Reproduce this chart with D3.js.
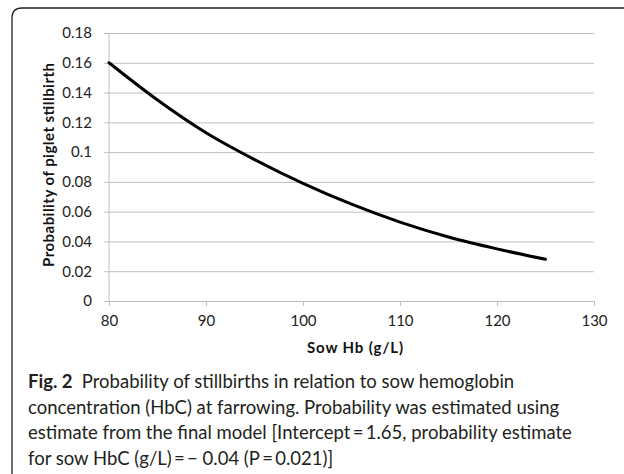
<!DOCTYPE html>
<html>
<head>
<meta charset="utf-8">
<script src="https://cdn.jsdelivr.net/npm/d3@7"></script>
<style>
  html, body { margin: 0; padding: 0; background: #fff; }
  svg { display: block; }
</style>
</head>
<body>
<svg id="chart" width="624" height="474"></svg>
<script>
// ---- data ----
const sowHb = [80, 85, 90, 95, 100, 105, 110, 115, 120, 125];
const probStillbirth = [0.160, 0.135, 0.113, 0.095, 0.079, 0.065, 0.053, 0.043, 0.035, 0.028];
const xTicks = [80, 90, 100, 110, 120, 130];
const yTicks = [0, 0.02, 0.04, 0.06, 0.08, 0.1, 0.12, 0.14, 0.16, 0.18];
const yTickLabels = ["0", "0.02", "0.04", "0.06", "0.08", "0.1", "0.12", "0.14", "0.16", "0.18"];
const xTitle = "Sow Hb (g/L)";
const yTitle = "Probability of piglet stillbirth";
const captionBold = "Fig. 2";
const captionLines = [
  "Probability of stillbirths in relation to sow hemoglobin",
  "concentration (HbC) at farrowing. Probability was estimated using",
  "estimate from the final model [Intercept\u2009=\u20091.65, probability estimate",
  "for sow HbC (g/L)\u2009=\u2009\u2212 0.04 (P\u2009=\u20090.021)]"
];
const captionLineWidths = [515, 562, 575, 377];

const svg = d3.select("#chart");
const font = "Lato, 'Open Sans', sans-serif";

// frame with rounded top-left corner
const r = 10;
svg.append("path")
  .attr("d", `M12,480 L12,${8 + r} Q12,8 ${12 + r},8 L630,8`)
  .attr("fill", "none").attr("stroke", "#231f20").attr("stroke-width", 1.3);

const plot = { left: 109, right: 594, top: 33, bottom: 301 };
const x = d3.scaleLinear().domain([80, 130]).range([plot.left, plot.right]);
const y = d3.scaleLinear().domain([0, 0.18]).range([plot.bottom, plot.top]);

// horizontal gridlines + y ticks
const yAxis = d3.axisLeft(y).tickValues(yTicks)
  .tickSize(-(plot.right - plot.left)).tickSizeOuter(0)
  .tickFormat((d, i) => yTickLabels[i]).tickPadding(12);
const gy = svg.append("g").attr("transform", `translate(${plot.left},0)`).call(yAxis);
gy.select(".domain").remove();
gy.selectAll(".tick line").attr("stroke", "#bfbfbf").attr("stroke-width", 1)
  .attr("x1", -5);
gy.selectAll(".tick text").attr("font-family", font).attr("font-size", 15)
  .attr("fill", "#222").attr("x", -17);

// vertical axis line
svg.append("line").attr("x1", plot.left).attr("x2", plot.left)
  .attr("y1", plot.top).attr("y2", plot.bottom)
  .attr("stroke", "#bfbfbf").attr("stroke-width", 1);

// x axis
const xAxis = d3.axisBottom(x).tickValues(xTicks).tickSize(5).tickSizeOuter(0).tickPadding(9);
const gx = svg.append("g").attr("transform", `translate(0,${plot.bottom})`).call(xAxis);
gx.select(".domain").attr("stroke", "#bfbfbf");
gx.selectAll(".tick line").attr("stroke", "#bfbfbf");
gx.selectAll(".tick text").attr("font-family", font).attr("font-size", 15).attr("fill", "#222");

// curve
const data = sowHb.map((v, i) => ({ x: v, y: probStillbirth[i] }));
svg.append("path").datum(data)
  .attr("fill", "none").attr("stroke", "#000").attr("stroke-width", 3)
  .attr("stroke-linecap", "round")
  .attr("d", d3.line().x(d => x(d.x)).y(d => y(d.y)).curve(d3.curveCatmullRom));

// axis titles
svg.append("text").attr("x", 355).attr("y", 353)
  .attr("text-anchor", "middle").attr("font-family", font).attr("font-weight", "bold")
  .attr("font-size", 15).attr("fill", "#111")
  .attr("textLength", 96).attr("lengthAdjust", "spacing").text(xTitle);
svg.append("text").attr("transform", `translate(54,165) rotate(-90)`)
  .attr("text-anchor", "middle").attr("font-family", font).attr("font-weight", "bold")
  .attr("font-size", 15).attr("fill", "#111")
  .attr("textLength", 204).attr("lengthAdjust", "spacing").text(yTitle);

// caption
const cap = svg.append("g").attr("font-family", font).attr("font-size", 18.5).attr("fill", "#231f20");
const t0 = cap.append("text").attr("x", 28).attr("y", 388);
t0.append("tspan").attr("font-weight", "bold").text(captionBold);
t0.append("tspan").text("\u2002" + captionLines[0]);
const capTexts = [t0];
captionLines.slice(1).forEach((line, i) => {
  capTexts.push(cap.append("text").attr("x", 28).attr("y", 388 + 25.5 * (i + 1)).text(line));
});
// stretch each line to the reference width only when the natural width is close
capTexts.forEach((t, i) => {
  const natural = t.node().getComputedTextLength();
  const target = captionLineWidths[i];
  if (natural < target && natural / target > 0.95) {
    t.attr("textLength", target).attr("lengthAdjust", "spacing");
  }
});
</script>
</body>
</html>
